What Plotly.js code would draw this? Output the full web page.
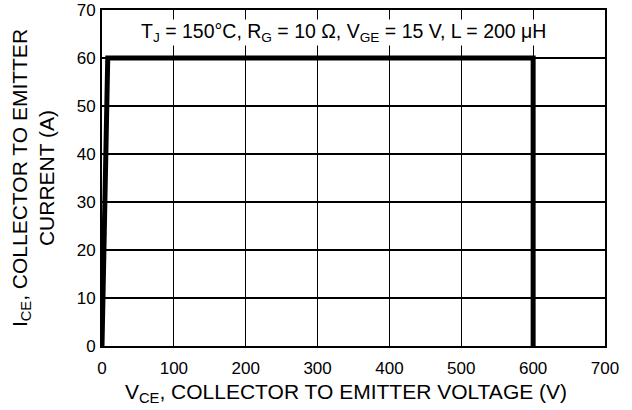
<!DOCTYPE html>
<html>
<head>
<meta charset="utf-8">
<script src="https://cdn.plot.ly/plotly-3.0.1.min.js"></script>
<style>html,body{margin:0;padding:0;background:#fff;}#chart{width:632px;height:410px;}</style>
</head>
<body>
<div id="chart"></div>
<script>
// Data (RBSOA boundary)
const vce = [0, 8, 600, 600];
const ice = [0, 60, 60, 0];
const xTicks = [0, 100, 200, 300, 400, 500, 600, 700];
const yTicks = [0, 10, 20, 30, 40, 50, 60, 70];
const condText = 'T<sub>J</sub> = 150°C, R<sub>G</sub> = 10 Ω, V<sub>GE</sub> = 15 V, L = 200 μH';
const xTitle = 'V<sub>CE</sub>, COLLECTOR TO EMITTER VOLTAGE (V)';
const yTitle = 'I<sub>CE</sub>, COLLECTOR TO EMITTER<br>CURRENT (A)';

const font = 'Liberation Sans, Arial, Helvetica, sans-serif';

const trace = {
  x: vce, y: ice, type: 'scatter', mode: 'lines',
  line: {color: '#000', width: 5},
  cliponaxis: false, hoverinfo: 'skip'
};

const axisCommon = {
  showline: true, linecolor: '#000', linewidth: 2, mirror: true,
  showgrid: true, gridcolor: '#000', gridwidth: 1.2,
  zeroline: false, ticks: '', fixedrange: true,
  tickfont: {family: font, size: 17, color: '#000'}
};

const layout = {
  width: 632, height: 410,
  margin: {l: 102, r: 27, t: 10, b: 64, pad: 0},
  paper_bgcolor: '#fff', plot_bgcolor: '#fff',
  showlegend: false,
  font: {family: font, color: '#000'},
  xaxis: Object.assign({}, axisCommon, {
    range: [0, 700], tickvals: xTicks, ticktext: xTicks.map(String),
    ticklabelstandoff: 6
  }),
  yaxis: Object.assign({}, axisCommon, {
    range: [0, 70], tickvals: yTicks, ticktext: yTicks.map(String),
    ticklabelstandoff: 1
  }),
  annotations: [
    {text: condText, xref: 'paper', yref: 'paper', x: 0.481, y: 0.932,
     xanchor: 'center', yanchor: 'middle', showarrow: false,
     bgcolor: '#fff', borderpad: 0,
     font: {family: font, size: 19.5, color: '#000'}},
    {text: xTitle, xref: 'paper', yref: 'paper', x: 0.486, y: -0.14,
     xanchor: 'center', yanchor: 'middle', showarrow: false,
     font: {family: font, size: 21, color: '#000'}},
    {text: yTitle, xref: 'paper', yref: 'paper', x: -0.137, y: 0.5,
     xanchor: 'center', yanchor: 'middle', showarrow: false, textangle: -90,
     font: {family: font, size: 21, color: '#000'}}
  ]
};

Plotly.newPlot('chart', [trace], layout, {staticPlot: true, displayModeBar: false});
</script>
</body>
</html>
